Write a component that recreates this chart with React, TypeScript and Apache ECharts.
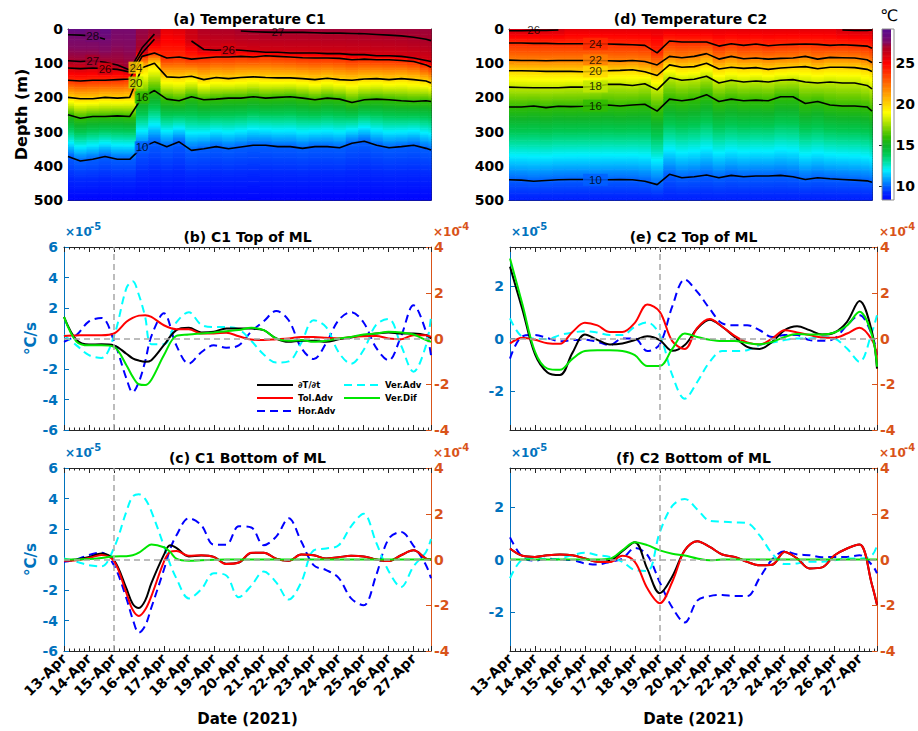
import React, { useEffect, useRef } from 'react';
import * as echarts from 'echarts';

const FONT = '"DejaVu Sans", "Liberation Sans", sans-serif';
const FONT_LAB = '"Liberation Sans", Arial, sans-serif';
const BLUE_AX = '#0072BD';
const ORANGE_AX = '#D95319';
const INK = '#262626';
const X_MAX = 14.7;

const dateLabels = ['13-Apr', '14-Apr', '15-Apr', '16-Apr', '17-Apr', '18-Apr', '19-Apr', '20-Apr', '21-Apr', '22-Apr', '23-Apr', '24-Apr', '25-Apr', '26-Apr', '27-Apr'];
const colorbarTicks = [10, 15, 20, 25];
const leftTicksC1 = [-6, -4, -2, 0, 2, 4, 6];
const leftTicksC2 = [-2, 0, 2];
const rightTicks = [-4, -2, 0, 2, 4];

// ---------- temperature sections (days since 13-Apr, depth in m) ----------
const tHeat = [0, 0.5, 1, 1.5, 2, 2.5, 3, 3.5, 4, 4.5, 5, 5.5, 6, 6.5, 7, 7.5, 8, 8.5, 9, 9.5, 10, 10.5, 11, 11.5, 12, 12.5, 13, 13.5, 14, 14.5, 14.7];

// C1
const sfcA = [28.7, 28.7, 28.7, 28.6, 27.9, 27.9, 27.3, 27.1, 25.6, 25.8, 26.3, 26.8, 26.9, 26.9, 27.1, 27.15, 27.15, 27.15, 27.15, 27.15, 27.15, 27.15, 27.15, 27.15, 27.15, 27.15, 27.15, 27.15, 27.15, 27.15, 27.15];
const botA = [8.4, 8.4, 8.4, 8.4, 8.4, 8.4, 8.4, 8.4, 8.4, 8.4, 8.4, 8.4, 8.4, 8.4, 8.4, 8.4, 8.4, 8.4, 8.4, 8.4, 8.4, 8.4, 8.4, 8.4, 8.4, 8.4, 8.4, 8.4, 8.4, 8.4, 8.4];
const iso28A = [17, 18, 20, 30,
  null, null, null, null, null, null, null, null, null,
  null, null, null, null, null, null, null, null, null,
  null, null, null, null, null, null, null, null, null];
const iso27A = [93, 95, 93, 97, 105, 120, 55, 15, null, null, null, null, null, null, 6, 8, 9, 10, 10, 10, 11, 12, 12, 13, 14, 16, 18, 20, 24, 30, 34];
const iso26A = [114, 116, 114, 116, 118, 126, 70, 30, null, null, 35, 60, 62, 60, 62, 65, 68, 68, 70, 70, 70, 72, 72, 75, 75, 78, 78, 80, 85, 92, 95];
const iso24A = [150, 152, 150, 150, 148, 146, 80, 70, 85, 82, 88, 85, 82, 82, 80, 82, 78, 80, 82, 84, 85, 85, 86, 90, 88, 90, 90, 92, 95, 105, 112];
const iso20A = [200, 204, 204, 200, 202, 200, 113, 100, 140, 142, 138, 148, 142, 145, 142, 140, 142, 143, 143, 145, 148, 144, 148, 150, 146, 145, 148, 145, 148, 152, 158];
const iso16A = [251, 261, 256, 256, 254, 256, 200, 180, 205, 210, 198, 207, 205, 202, 202, 198, 202, 200, 198, 202, 207, 202, 205, 215, 207, 205, 207, 210, 212, 210, 212];
const iso10A = [373, 386, 381, 373, 381, 381, 346, 330, 344, 330, 355, 350, 344, 350, 345, 340, 340, 344, 344, 349, 344, 344, 347, 334, 328, 340, 347, 344, 340, 349, 354];
const levelsA = [28, 27, 26, 24, 20, 16, 10];
// label positions along each contour (sample index; .5 = between two samples)
const labelPosA = [[2], [2, 17], [3, 13], [5.5], [5.5], [6], [6]];

// C2
const sfcD = [26.2, 26.2, 26.2, 26.2, 26.1,
  25.7, 25.7, 25.7, 25.7, 25.7, 25.7, 25.7, 25.7, 25.7, 25.7, 25.7,
  25.7, 25.7, 25.7, 25.7, 25.7, 25.7, 25.7, 25.7, 25.7, 25.7, 25.7,
  26.1, 26.1, 26.1, 26.1];
const botD = [9.0, 9.0, 9.0, 9.0, 9.0, 9.0, 9.0, 9.0, 9.0, 9.0, 9.0, 9.0, 9.0, 9.0, 9.0, 9.0, 9.0, 9.0, 9.0, 9.0, 9.0, 9.0, 9.0, 9.0, 9.0, 9.0, 9.0, 9.0, 9.0, 9.0, 9.0];
const iso26D = [5, 5, 4, 4, 3,
  null, null, null, null, null, null, null, null, null, null, null,
  null, null, null, null, null, null, null, null, null, null, null,
  3, 4, 4, 3];
const iso24D = [41, 41, 42, 42, 43, 43, 43, 43, 44, 45, 46, 48, 70, 35, 38, 38, 38, 50, 43, 48, 44, 49, 46, 45, 44, 45, 48, 46, 48, 50, 56];
const iso22D = [91, 92, 92, 93, 92, 92, 92, 92, 93, 94, 92, 95, 105, 80, 84, 80, 72, 88, 80, 87, 85, 88, 86, 85, 80, 88, 83, 84, 85, 90, 98];
const iso20D = [122, 122, 123, 124, 124, 124, 125, 124, 122, 121, 119, 125, 136, 105, 112, 110, 100, 117, 112, 115, 113, 118, 114, 112, 110, 116, 112, 112, 113, 118, 124];
const iso18D = [170, 171, 172, 172, 172, 170, 170, 168, 162, 162, 165, 160, 178, 142, 150, 147, 138, 158, 150, 155, 152, 155, 150, 148, 155, 158, 155, 158, 158, 165, 175];
const iso16D = [228, 228, 225, 230, 226, 227, 226, 224, 222, 225, 222, 220, 240, 205, 210, 205, 192, 212, 205, 210, 208, 210, 198, 198, 218, 212, 222, 225, 225, 228, 240];
const iso10D = [441, 442, 445, 443, 441, 440, 440, 441, 441, 440, 441, 445, 455, 425, 435, 432, 427, 435, 428, 432, 430, 430, 428, 432, 440, 435, 438, 440, 442, 444, 448];
const levelsD = [26, 24, 22, 20, 18, 16, 10];
const labelPosD = [[2], [7], [7], [7], [7], [7], [7]];

// ---------- heat budget terms ----------
// left axis (x1e-5): dT/dt, Tol.Adv, Ver.Dif ; right axis (x1e-4): Hor.Adv, Ver.Adv
const tB = [0, 0.5, 1, 1.5, 2, 2.5, 2.75, 3, 3.25, 3.5, 4, 4.5, 5, 5.5, 6, 6.5, 7, 7.5, 8, 8.5, 9, 9.5, 10, 10.5, 11, 11.5, 12, 12.5, 13, 13.5, 14, 14.5, 14.7];
const dTdtB = [1.42, -0.1, -0.4, -0.38, -0.45, -1.0, -1.3, -1.45, -1.53, -1.42, -0.44, 0.55, 0.7, 0.4, 0.45, 0.65, 0.65, 0.65, 0.55, 0.0, -0.22, -0.15, -0.15, -0.22, -0.05, 0.07, 0.22, 0.33, 0.4, 0.33, 0.33, 0.22, 0.0];
const tolB = [0.17, 0.2, 0.22, 0.22, 0.33, 1.1, 1.35, 1.5, 1.53, 1.42, 0.87, 0.61, 0.61, 0.33, 0.33, 0.38, 0.15, -0.07, -0.1, -0.05, 0.0, 0.1, 0.1, 0.05, 0.0, 0.1, 0.15, 0.17, 0.0, -0.05, 0.22, 0.22, 0.1];
const difB = [1.42, -0.2, -0.45, -0.45, -0.55, -1.75, -2.5, -3.0, -3.05, -2.7, -1.1, 0.17, 0.26, 0.33, 0.4, 0.48, 0.55, 0.7, 0.55, 0.0, -0.15, -0.1, -0.22, -0.15, 0.0, 0.1, 0.26, 0.33, 0.44, 0.4, 0.26, -0.1, -0.22];
const horB = [-0.15, 0.15, 0.75, 0.9, -0.1, -1.75, -2.35, -1.9, -1.0, 0.1, 1.1, -0.3, -1.1, -0.6, -0.3, -0.4, -0.3, 0.3, 0.75, 1.2, 0.8, -0.4, -0.9, -0.2, 0.8, 1.15, 0.7, -0.4, -0.95, 0.1, 1.45, 0.3, -0.73];
const verB = [0.15, -0.3, -0.73, -0.85, 0.1, 2.2, 2.5, 1.9, 0.95, -0.25, -0.25, 0.7, 1.15, 0.6, 0.5, 0.5, 0.4, -0.1, -0.7, -1.05, -1.0, -0.2, 0.8, 0.5, -0.6, -1.1, -0.5, 0.6, 0.85, -0.3, -1.45, -0.3, 0.95];

const tC = [0, 0.5, 1, 1.5, 2, 2.5, 2.75, 3, 3.25, 3.5, 4, 4.25, 4.5, 5, 5.5, 6, 6.5, 7, 7.5, 8, 8.5, 9, 9.5, 10, 10.5, 11, 11.5, 12, 12.5, 13, 13.5, 14, 14.5, 14.7];
const dTdtC = [-0.04, 0.0, 0.17, 0.39, -0.04, -1.9, -2.9, -3.18, -2.7, -1.55, 0.3, 0.93, 0.76, 0.2, 0.26, 0.17, -0.28, -0.2, 0.43, 0.45, 0.05, -0.08, 0.32, 0.28, 0.06, 0.15, 0.24, 0.2, 0.0, -0.1, 0.28, 0.6, 0.06, 0.0];
const tolC = [-0.09, -0.05, 0.1, 0.3, -0.1, -2.2, -3.3, -3.7, -3.3, -2.4, -0.15, 0.5, 0.55, 0.24, 0.28, 0.17, -0.3, -0.2, 0.45, 0.45, 0.05, -0.08, 0.32, 0.28, 0.06, 0.15, 0.24, 0.2, 0.0, -0.1, 0.28, 0.6, 0.06, 0.0];
const difC = [0, 0, 0.03, 0.1, 0.2, 0.22, 0.28, 0.45, 0.75, 0.98, 0.8, 0.5, 0.06, -0.08, -0.05, -0.02, 0, 0, 0, 0, 0, 0, 0, 0, 0, 0, 0, 0, 0, 0, 0, 0, 0, 0];
const horC = [-0.1, 0.0, 0.2, 0.3, -0.25, -1.7, -2.6, -3.2, -2.9, -2.1, -0.45, 0.45, 1.05, 1.8, 1.5, 0.65, 0.65, 1.45, 1.4, 0.62, 1.0, 1.8, 0.8, -0.25, -0.46, -0.8, -1.7, -2.0, -0.7, 0.9, 1.2, 0.6, -0.25, -0.82];
const verC = [0.05, -0.1, -0.25, -0.3, 0.5, 2.1, 2.75, 2.85, 2.65, 2.1, 0.6, -0.2, -0.82, -1.7, -1.3, -0.6, -0.7, -1.65, -1.15, -0.53, -1.0, -1.75, -1.0, 0.4, 0.48, 0.62, 1.45, 2.0, 0.75, -0.5, -1.2, -0.3, 0.33, 0.9];

const tE = [0, 0.5, 1, 1.5, 2, 2.5, 3, 3.5, 4, 4.5, 5, 5.5, 6, 6.5, 7, 7.5, 8, 8.5, 9, 9.5, 10, 10.5, 11, 11.5, 12, 12.5, 13, 13.5, 14, 14.5, 14.7];
const dTdtE = [2.75, 1.1, -0.6, -1.3, -1.4, -0.55, 0.15, -0.05, -0.23, -0.19, -0.06, 0.09, -0.06, -0.47, -0.25, 0.38, 0.72, 0.45, 0.06, -0.32, -0.4, -0.13, 0.32, 0.47, 0.32, 0.15, 0.23, 0.64, 1.43, 0.25, -1.15];
const tolE = [-0.19, 0.03, -0.05, -0.18, -0.2, 0.25, 0.6, 0.5, 0.25, 0.25, 0.6, 1.3, 1.02, -0.1, -0.4, 0.41, 0.75, 0.45, 0.1, -0.15, -0.23, 0.0, 0.32, 0.23, 0.13, 0.04, 0.03, 0.19, 0.41, -0.06, -0.64];
const difE = [3.06, 1.3, -0.5, -1.15, -1.2, -0.78, -0.48, -0.45, -0.45, -0.48, -0.64, -1.05, -1.05, -0.4, 0.19, 0.06, -0.05, -0.1, -0.1, -0.17, -0.22, -0.13, 0.06, 0.17, 0.15, 0.15, 0.23, 0.5, 1.02, 0.13, -1.08];
const horE = [-0.88, 0.1, 0.15, 0.02, -0.12, -0.07, -0.05, -0.15, -0.29, 0.0, 0.0, -0.55, -0.25, 1.4, 2.58, 2.04, 1.3, 0.66, 0.58, 0.58, 0.36, 0.07, 0.15, 0.15, -0.07, -0.1, 0.0, 0.58, 1.02, 0.15, -0.73];
const verE = [0.88, 0.07, 0.0, -0.03, 0.15, 0.26, 0.32, 0.26, 0.15, 0.15, 0.51, 0.7, 0.15, -1.6, -2.63, -1.9, -1.02, -0.55, -0.55, -0.51, -0.29, -0.18, -0.07, 0.0, 0.0, 0.07, 0.0, -0.44, -1.02, 0.29, 1.02];

const tF = [0, 0.5, 1, 1.5, 2, 2.5, 3, 3.5, 4, 4.5, 5, 5.5, 6, 6.5, 7, 7.5, 8, 8.5, 9, 9.5, 10, 10.5, 11, 11.5, 12, 12.5, 13, 13.5, 14, 14.5, 14.7];
const dTdtF = [0.42, 0.14, 0.1, 0.16, 0.19, 0.16, 0.04, -0.09, -0.05, 0.32, 0.66, -0.36, -1.29, -0.65, 0.35, 0.7, 0.48, 0.19, 0.1, -0.09, -0.22, -0.2, 0.29, 0.04, -0.34, -0.3, 0.16, 0.42, 0.57, -0.97, -1.73];
const tolF = [0.42, 0.14, 0.1, 0.16, 0.19, 0.16, 0.04, -0.09, -0.1, 0.14, -0.09, -1.1, -1.67, -0.85, 0.35, 0.7, 0.48, 0.19, 0.1, -0.09, -0.22, -0.2, 0.29, 0.04, -0.34, -0.3, 0.16, 0.42, 0.57, -0.97, -1.73];
const difF = [0, 0, 0, 0, 0, 0, 0, 0, 0.03, 0.35, 0.66, 0.55, 0.35, 0.22, 0.15, 0.04, -0.03, 0, 0, 0, 0, 0, 0, 0, 0, 0, 0, 0, 0, 0, 0];
const horF = [0.97, 0.11, -0.05, 0.04, 0.0, -0.03, -0.17, -0.22, -0.1, 0.04, 0.5, 0.2, -1.0, -2.1, -2.75, -1.8, -1.6, -1.55, -1.6, -1.6, -0.8, 0.0, 0.36, 0.22, 0.19, 0.1, 0.11, 0.11, 0.19, -0.24, -0.6];
const verF = [-0.82, 0.0, 0.07, 0.01, 0.04, 0.19, 0.3, 0.19, 0.11, -0.1, -0.46, -0.5, 1.19, 2.34, 2.65, 2.19, 1.69, 1.65, 1.62, 1.59, 1.05, 0.26, -0.2, -0.17, -0.1, -0.1, -0.03, 0.04, 0.04, 0.19, 0.62];

// colormap (value -> colour)
const cmapStops: [number, string][] = [
  [8.3, '#0000ff'], [9.2, '#0028ff'], [10, '#0060ff'], [11, '#00a8ff'], [12, '#00f0ff'],
  [13, '#00e0a0'], [14, '#00c850'], [15, '#10b428'], [16, '#30bc00'], [17, '#78d000'],
  [18, '#c0e800'], [19, '#ffff00'], [20, '#ffd400'], [21, '#ffaa00'], [22, '#ff8000'],
  [23, '#ff5500'], [24, '#ff2a00'], [25, '#ff0000'], [26, '#d4000e'], [27, '#a8002a'],
  [27.5, '#840a60'], [28.2, '#6c0a7a'], [29.1, '#5a0c8e'],
];
const CB_MIN = 8.3;
const CB_MAX = 29.1;

function hexRgb(h: string) {
  return [parseInt(h.slice(1, 3), 16), parseInt(h.slice(3, 5), 16), parseInt(h.slice(5, 7), 16)];
}
function colorFor(v: number) {
  if (v <= cmapStops[0][0]) return cmapStops[0][1];
  for (let k = 1; k < cmapStops.length; k++) {
    if (v <= cmapStops[k][0]) {
      const [v0, c0] = cmapStops[k - 1];
      const [v1, c1] = cmapStops[k];
      const f = (v - v0) / (v1 - v0);
      const a = hexRgb(c0);
      const b = hexRgb(c1);
      const r = a.map((x, i) => Math.round(x + (b[i] - x) * f));
      return `rgb(${r[0]},${r[1]},${r[2]})`;
    }
  }
  return cmapStops[cmapStops.length - 1][1];
}

type Iso = { level: number; depth: (number | null)[]; labels: number[] };

function profileAt(i: number, sfc: number[], bot: number[], isos: Iso[]) {
  const pts: [number, number][] = [[0, sfc[i]]];
  isos.forEach((iso) => {
    const d = iso.depth[i];
    if (d != null && iso.level < sfc[i]) pts.push([d, iso.level]);
  });
  pts.push([500, bot[i]]);
  pts.sort((a, b) => a[0] - b[0]);
  return pts;
}
function tempAt(pts: [number, number][], z: number) {
  for (let k = 1; k < pts.length; k++) {
    if (z <= pts[k][0]) {
      const [z0, t0] = pts[k - 1];
      const [z1, t1] = pts[k];
      if (z1 === z0) return t1;
      return t0 + (t1 - t0) * (z - z0) / (z1 - z0);
    }
  }
  return pts[pts.length - 1][1];
}
function heatCells(times: number[], sfc: number[], bot: number[], isos: Iso[]) {
  const cells: number[][] = [];
  times.forEach((t, i) => {
    const x0 = i === 0 ? 0 : (times[i - 1] + t) / 2;
    const x1 = i === times.length - 1 ? X_MAX : (t + times[i + 1]) / 2;
    const pts = profileAt(i, sfc, bot, isos);
    for (let z = 0; z < 500; z += 5) cells.push([x0, x1, z, z + 5, tempAt(pts, z + 2.5)]);
  });
  return cells;
}

function cellRenderer(params: any, api: any) {
  const p0 = api.coord([api.value(0), api.value(2)]);
  const p1 = api.coord([api.value(1), api.value(3)]);
  return {
    type: 'rect',
    shape: {
      x: Math.min(p0[0], p1[0]),
      y: Math.min(p0[1], p1[1]),
      width: Math.abs(p1[0] - p0[0]) + 0.6,
      height: Math.abs(p1[1] - p0[1]) + 0.6,
    },
    style: { fill: colorFor(api.value(4)) },
  };
}

function buildOption() {
  const grid: any[] = [];
  const xAxis: any[] = [];
  const yAxis: any[] = [];
  const series: any[] = [];
  const graphic: any[] = [];

  const bold = (size: number) => ({ fontFamily: FONT, fontSize: size, fontWeight: 'bold' });

  const text = (x: number, y: number, str: string, size: number, color = '#000', weight = 'bold', align = 'center') => {
    graphic.push({
      type: 'text', x, y, silent: true, z: 10,
      style: { text: str, fill: color, font: `${weight} ${size}px ${FONT}`, textAlign: align, textVerticalAlign: 'middle' },
    });
  };

  const G = {
    a: { left: 68, top: 29, width: 363, height: 171 },
    d: { left: 509, top: 29, width: 363, height: 171 },
    cb: { left: 882, top: 29, width: 12, height: 171 },
    b: { left: 64, top: 247, width: 367, height: 183 },
    c: { left: 64, top: 468, width: 367, height: 183 },
    e: { left: 510, top: 247, width: 367, height: 183 },
    f: { left: 510, top: 468, width: 367, height: 183 },
  };

  const timeAxis = (gi: number, position: string, labels: boolean, name = '') => {
    xAxis.push({
      gridIndex: gi, type: 'value', position, min: 0, max: X_MAX, interval: 1,
      axisLine: { show: true, onZero: false, lineStyle: { color: INK, width: 1 } },
      axisTick: { show: true, inside: true, length: 5, lineStyle: { color: INK, width: 1 } },
      minorTick: { show: true, splitNumber: 5, length: 2.5, lineStyle: { color: INK, width: 1 } },
      splitLine: { show: false },
      axisLabel: labels
        ? {
          show: true, rotate: 45, margin: 5, color: '#000', ...bold(14), showMaxLabel: false,
          formatter: (v: number) => {
            const k = Math.round(v);
            return Math.abs(v - k) < 1e-6 && dateLabels[k] ? dateLabels[k] : '';
          },
        }
        : { show: false },
      name, nameLocation: 'middle', nameGap: 60, nameTextStyle: { color: '#000', ...bold(15) },
    });
    return xAxis.length - 1;
  };

  const addHeat = (g: any, sfc: number[], bot: number[], isos: Iso[], yName: string, labelPad: number[]) => {
    const gi = grid.push({ ...g }) - 1;
    const xb = timeAxis(gi, 'bottom', false);
    timeAxis(gi, 'top', false);
    const baseY = {
      gridIndex: gi, type: 'value', inverse: true, min: 0, max: 500, interval: 100,
      axisLine: { show: true, onZero: false, lineStyle: { color: INK, width: 1 } },
      axisTick: { show: true, inside: true, length: 5, lineStyle: { color: INK } },
      splitLine: { show: false },
    };
    const yl = yAxis.push({
      ...baseY, position: 'left',
      axisLabel: { show: true, color: '#000', margin: 5, ...bold(14) },
      name: yName, nameLocation: 'middle', nameGap: 36, nameRotate: 90,
      nameTextStyle: { color: '#000', ...bold(16) },
    }) - 1;
    yAxis.push({ ...baseY, position: 'right', axisLabel: { show: false } });
    series.push({
      type: 'custom', xAxisIndex: xb, yAxisIndex: yl, data: heatCells(tHeat, sfc, bot, isos),
      encode: { x: [0, 1], y: [2, 3] }, renderItem: cellRenderer, clip: true, silent: true, z: 1,
    });
    isos.forEach((iso) => {
      series.push({
        type: 'line', xAxisIndex: xb, yAxisIndex: yl, silent: true, z: 3, symbol: 'none',
        data: tHeat.map((t, i) => [t, iso.depth[i] == null ? '-' : iso.depth[i]]),
        lineStyle: { color: '#000', width: 1.6 },
      });
    });
    // inline contour labels, drawn on the local background colour (as MATLAB clabel does)
    const labelData: any[] = [];
    isos.forEach((iso) => iso.labels.forEach((pos) => {
      const i0 = Math.floor(pos);
      const i1 = Math.ceil(pos);
      const d0 = iso.depth[i0];
      const d1 = iso.depth[i1];
      if (d0 == null || d1 == null) return;
      const f = pos - i0;
      const t = tHeat[i0] + (tHeat[i1] - tHeat[i0]) * f;
      const d = d0 + (d1 - d0) * f;
      const nearTop = d < 18;
      const bg = nearTop ? 'transparent' : colorFor(tempAt(profileAt(Math.round(pos), sfc, bot, isos), d));
      labelData.push({
        value: [t, d],
        label: { formatter: String(iso.level), backgroundColor: bg, padding: nearTop ? [0, 0] : labelPad },
      });
    }));
    series.push({
      type: 'scatter', xAxisIndex: xb, yAxisIndex: yl, data: labelData, symbolSize: 1, silent: true, z: 4,
      itemStyle: { color: 'rgba(0,0,0,0)' },
      label: { show: true, position: 'inside', color: '#000', fontFamily: FONT_LAB, fontSize: 11.5, lineHeight: 12 },
    });
  };

  const addLines = (g: any, p: any) => {
    const gi = grid.push({ ...g }) - 1;
    const xb = timeAxis(gi, 'bottom', p.dates, p.dates ? 'Date (2021)' : '');
    timeAxis(gi, 'top', false);
    const yl = yAxis.push({
      gridIndex: gi, type: 'value', position: 'left', min: -p.leftMax, max: p.leftMax,
      axisLine: { show: true, onZero: false, lineStyle: { color: BLUE_AX, width: 1 } },
      axisTick: { show: true, inside: true, length: 5, customValues: p.leftTicks, lineStyle: { color: BLUE_AX } },
      axisLabel: { show: true, customValues: p.leftTicks, color: BLUE_AX, margin: 6, ...bold(14) },
      splitLine: { show: false },
      name: p.yName, nameLocation: 'middle', nameGap: 26, nameRotate: 90,
      nameTextStyle: { color: BLUE_AX, ...bold(15) },
    }) - 1;
    const yr = yAxis.push({
      gridIndex: gi, type: 'value', position: 'right', min: -4, max: 4,
      axisLine: { show: true, onZero: false, lineStyle: { color: ORANGE_AX, width: 1 } },
      axisTick: { show: true, inside: true, length: 5, customValues: rightTicks, lineStyle: { color: ORANGE_AX } },
      axisLabel: { show: true, customValues: rightTicks, color: ORANGE_AX, margin: 3, ...bold(14) },
      splitLine: { show: false },
    }) - 1;
    series.push({
      type: 'line', xAxisIndex: xb, yAxisIndex: yl, data: [], silent: true, z: 1, symbol: 'none',
      markLine: {
        silent: true, symbol: 'none', label: { show: false }, animation: false,
        lineStyle: { color: '#a6a6a6', width: 1.5, type: [6, 4] },
        data: [{ yAxis: 0 }, { xAxis: p.vline }],
      },
    });
    const mk = (name: string, vals: number[], yi: number, color: string, dashed: boolean, z: number) => ({
      type: 'line', name, xAxisIndex: xb, yAxisIndex: yi, silent: true, z,
      data: p.times.map((t: number, i: number) => [t, vals[i]]),
      symbol: 'none', smooth: 0.35,
      lineStyle: { color, width: 2, type: dashed ? [8, 5] : 'solid' },
      itemStyle: { color },
    });
    series.push(mk('Hor.Adv', p.hor, yr, '#0000ff', true, 2));
    series.push(mk('Ver.Adv', p.ver, yr, '#00ffff', true, 2));
    series.push(mk('∂T/∂t', p.dTdt, yl, '#000000', false, 3));
    series.push(mk('Tol.Adv', p.tol, yl, '#ff0000', false, 3));
    series.push(mk('Ver.Dif', p.dif, yl, '#00e600', false, 3));

    const top = g.top;
    const right = g.left + g.width;
    text(g.left + 1, top - 15, '×10', 12, BLUE_AX, 'bold', 'left');
    text(g.left + 26, top - 21, '-5', 10, BLUE_AX, 'bold', 'left');
    text(right + 2, top - 15, '×10', 12, ORANGE_AX, 'bold', 'left');
    text(right + 27, top - 21, '-4', 10, ORANGE_AX, 'bold', 'left');
  };

  const isosA: Iso[] = [iso28A, iso27A, iso26A, iso24A, iso20A, iso16A, iso10A].map((d, k) => ({ level: levelsA[k], depth: d, labels: labelPosA[k] }));
  const isosD: Iso[] = [iso26D, iso24D, iso22D, iso20D, iso18D, iso16D, iso10D].map((d, k) => ({ level: levelsD[k], depth: d, labels: labelPosD[k] }));

  addHeat(G.a, sfcA, botA, isosA, 'Depth (m)', [0, 1]);
  addHeat(G.d, sfcD, botD, isosD, '', [0, 6]);

  // colour bar
  const cbi = grid.push({ ...G.cb }) - 1;
  const cbx = xAxis.push({ gridIndex: cbi, type: 'value', min: 0, max: 1, show: false }) - 1;
  const cby = yAxis.push({
    gridIndex: cbi, type: 'value', position: 'right', min: CB_MIN, max: CB_MAX,
    axisLine: { show: false },
    axisTick: { show: true, inside: true, length: 3, customValues: colorbarTicks, lineStyle: { color: INK } },
    axisLabel: { show: true, customValues: colorbarTicks, color: '#000', margin: 5, ...bold(14) },
    splitLine: { show: false },
  }) - 1;
  const cbCells: number[][] = [];
  for (let v = CB_MIN; v < CB_MAX - 1e-6; v += 0.1) cbCells.push([0, 1, v, Math.min(v + 0.1, CB_MAX), v + 0.05]);
  series.push({
    type: 'custom', xAxisIndex: cbx, yAxisIndex: cby, data: cbCells, encode: { x: [0, 1], y: [2, 3] },
    renderItem: cellRenderer, clip: true, silent: true, z: 1,
  });
  graphic.push({
    type: 'rect', silent: true, z: 5,
    shape: { x: G.cb.left, y: G.cb.top, width: G.cb.width, height: G.cb.height },
    style: { fill: 'none', stroke: '#8c8c8c', lineWidth: 1 },
  });
  text(889, 15, '℃', 16, '#000', 'normal');

  addLines(G.b, { times: tB, dTdt: dTdtB, tol: tolB, dif: difB, hor: horB, ver: verB, leftMax: 6, leftTicks: leftTicksC1, vline: 2, dates: false, yName: '°C/s' });
  addLines(G.c, { times: tC, dTdt: dTdtC, tol: tolC, dif: difC, hor: horC, ver: verC, leftMax: 6, leftTicks: leftTicksC1, vline: 2, dates: true, yName: '°C/s' });
  addLines(G.e, { times: tE, dTdt: dTdtE, tol: tolE, dif: difE, hor: horE, ver: verE, leftMax: 3.5, leftTicks: leftTicksC2, vline: 6, dates: false, yName: '' });
  addLines(G.f, { times: tF, dTdt: dTdtF, tol: tolF, dif: difF, hor: horF, ver: verF, leftMax: 3.5, leftTicks: leftTicksC2, vline: 6, dates: true, yName: '' });

  // titles
  const titleAt = (g: any, str: string) => text(g.left + g.width / 2, g.top - 10, str, 14);
  titleAt(G.a, '(a) Temperature C1');
  titleAt(G.d, '(d) Temperature C2');
  titleAt(G.b, '(b) C1 Top of ML');
  titleAt(G.e, '(e) C2 Top of ML');
  titleAt(G.c, '(c) C1 Bottom of ML');
  titleAt(G.f, '(f) C2 Bottom of ML');

  const legendBase = {
    orient: 'vertical', top: 380, itemWidth: 36, itemHeight: 10, itemGap: 3, padding: 0,
    selectedMode: false,
    itemStyle: { opacity: 0 },
    textStyle: { color: '#000', fontFamily: FONT, fontSize: 8.5, fontWeight: 'bold', lineHeight: 10 },
  };
  const legend = [
    { ...legendBase, left: 256, data: ['∂T/∂t', 'Tol.Adv', 'Hor.Adv'] },
    { ...legendBase, left: 343, data: ['Ver.Adv', 'Ver.Dif'] },
  ];

  return {
    animation: false,
    backgroundColor: '#ffffff',
    grid, xAxis, yAxis, series, graphic, legend,
  };
}

export default function App() {
  const ref = useRef<HTMLDivElement>(null);
  useEffect(() => {
    if (!ref.current) return;
    const chart = echarts.init(ref.current, undefined, { renderer: 'svg' });
    chart.setOption(buildOption() as any);
    return () => chart.dispose();
  }, []);
  return (
    <div
      ref={ref}
      style={{ position: 'absolute', left: 0, top: 0, width: 918, height: 731, background: '#ffffff' }}
    />
  );
}
